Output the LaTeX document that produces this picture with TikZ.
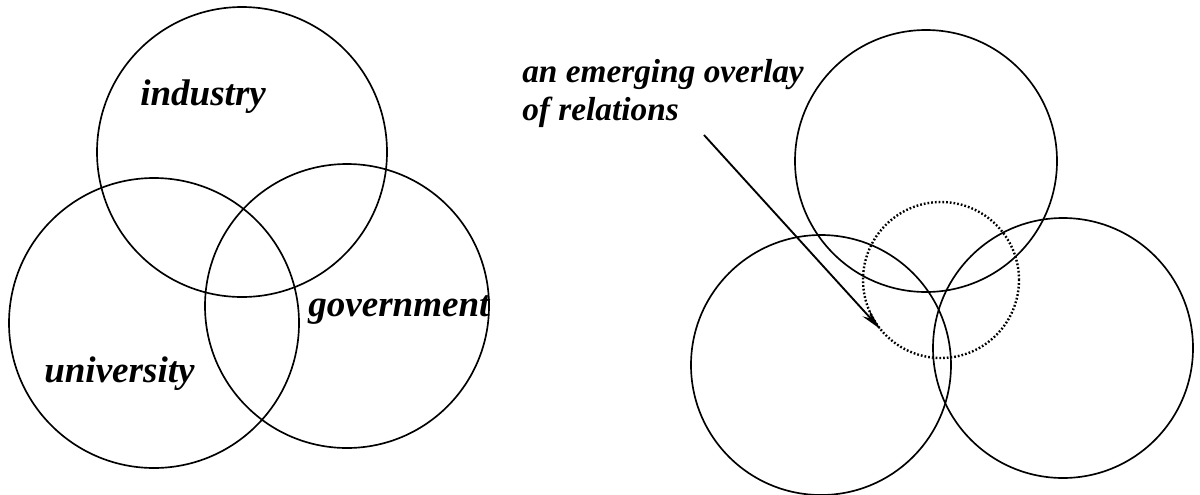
\documentclass[tikz,border=0pt]{standalone}
\usepackage{fontspec}
\setmainfont{Liberation Serif}
\usetikzlibrary{arrows.meta}

\begin{document}
\begin{tikzpicture}[x=0.75pt,y=0.75pt,yscale=-1,xscale=1,
  lbl/.style={font=\fontsize{27.8}{30}\selectfont\bfseries\itshape, inner sep=0pt, anchor=base west},
  note/.style={font=\fontsize{25}{28.5}\selectfont\bfseries\itshape, inner sep=0pt, align=left, anchor=north west},
  ring/.style={line width=1.25pt}]
\useasboundingbox (0,0) rectangle (1200,494);

%Shape: Circle [industry]
\draw [ring] (242,152) circle (145);
%Shape: Circle [university]
\draw [ring] (154,323) circle (145);
%Shape: Circle [government]
\draw [ring] (347,306) circle (142);

%Shape: Circle [top right]
\draw [ring] (926,161) circle (131);
%Shape: Circle [bottom left]
\draw [ring] (821,365) circle (130);
%Shape: Circle [bottom right]
\draw [ring] (1063,348) circle (130);
%Shape: Circle [overlay, dotted]
\node [draw, circle, line width=1.8pt, dash pattern=on 1.3pt off 1.5pt, minimum size=117pt, inner sep=0pt, outer sep=0pt] (overlay) at (941,280) {};

% Text Node
\node [lbl] (industry) at (140,105) {industry};
% Text Node
\node [lbl] (government) at (308,316) {government};
% Text Node
\node [lbl] (university) at (44,382) {university};
% Text Node
\node [note] (relations) at (522,59) {an emerging overlay\\of relations};

%Straight Lines [arrow]
\coordinate (arrowfrom) at (704,135);
\draw [line width=1.4pt, -{Stealth[length=16pt,width=7pt]}] (arrowfrom) -- (overlay.219);

\end{tikzpicture}
\end{document}
